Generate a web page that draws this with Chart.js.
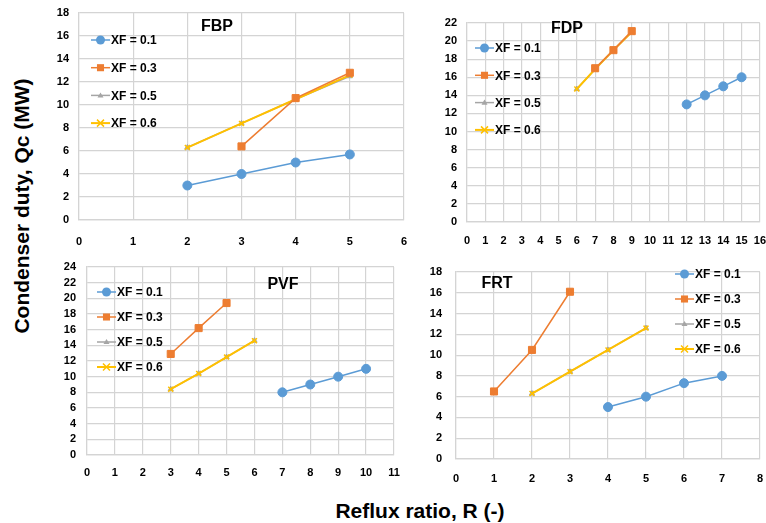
<!DOCTYPE html>
<html>
<head>
<meta charset="utf-8">
<script src="https://cdn.jsdelivr.net/npm/chart.js@4"></script>
<style>
  body { margin: 0; background: #fff; width: 766px; height: 523px; position: relative; overflow: hidden; font-family: "Liberation Sans", Arial, sans-serif; }
  .box { position: absolute; }
  .ptitle { position: absolute; font-weight: bold; font-size: 16px; transform: translate(-50%, -50%); white-space: nowrap; }
  #ytitle { position: absolute; left: 22px; top: 206px; font-weight: bold; font-size: 21px; white-space: nowrap; transform: translate(-50%, -50%) rotate(-90deg); }
  #xtitle { position: absolute; left: 420px; top: 511px; font-weight: bold; font-size: 21px; white-space: nowrap; transform: translate(-50%, -50%); }
</style>
</head>
<body>
<div class="box" id="b1"><canvas id="fbp"></canvas></div>
<div class="box" id="b2"><canvas id="fdp"></canvas></div>
<div class="box" id="b3"><canvas id="pvf"></canvas></div>
<div class="box" id="b4"><canvas id="frt"></canvas></div>
<div class="ptitle" style="left:217px;top:26px">FBP</div>
<div class="ptitle" style="left:567px;top:28px">FDP</div>
<div class="ptitle" style="left:283px;top:284px">PVF</div>
<div class="ptitle" style="left:497px;top:283px">FRT</div>
<div id="ytitle">Condenser duty, Qc (MW)</div>
<div id="xtitle">Reflux ratio, R (-)</div>
<script>
// Series labels (feed mole fraction)
const seriesLabels = ['XF = 0.1', 'XF = 0.3', 'XF = 0.5', 'XF = 0.6'];

// FBP: reflux ratio / condenser duty per series
const fbpR  = [[2, 3, 4, 5], [3, 4, 5], [2, 3, 4, 5], [2, 3, 4, 5]];
const fbpQc = [[3, 4, 5, 5.7], [6.4, 10.6, 12.8], [6.3, 8.4, 10.5, 12.5], [6.3, 8.4, 10.5, 12.6]];

// FDP
const fdpR  = [[12, 13, 14, 15], [7, 8, 9], [6, 7, 8, 9], [6, 7, 8, 9]];
const fdpQc = [[13, 14, 15, 16], [17, 19, 21.1], [14.7, 16.9, 19, 21], [14.7, 16.9, 19, 21]];

// PVF
const pvfR  = [[7, 8, 9, 10], [3, 4, 5], [3, 4, 5, 6], [3, 4, 5, 6]];
const pvfQc = [[8, 9, 10, 11], [12.9, 16.2, 19.4], [8.4, 10.4, 12.5, 14.6], [8.4, 10.4, 12.5, 14.6]];

// FRT
const frtR  = [[4, 5, 6, 7], [1, 2, 3], [2, 3, 4, 5], [2, 3, 4, 5]];
const frtQc = [[5, 6, 7.3, 8], [6.5, 10.5, 16.1], [6.3, 8.4, 10.5, 12.6], [6.3, 8.4, 10.5, 12.6]];

// axis ranges [xMax, yMax]
const fbpMax = [6, 18];
const fdpMax = [16, 22];
const pvfMax = [11, 24];
const frtMax = [8, 18];

const styles = [
  { color: '#5b9bd5', point: 'circle',   radius: 4.5, width: 1.5, order: 0 },
  { color: '#ed7d31', point: 'rect',     radius: 5,   width: 1.5, order: 1 },
  { color: '#a5a5a5', point: 'triangle', radius: 3,   width: 1.5, order: 3 },
  { color: '#ffc000', point: 'crossRot', radius: 3.5, width: 2,   order: 2 },
];

const tickFont = { family: '"Liberation Sans Narrow", "Liberation Sans", Arial, sans-serif', size: 11, weight: 'bold' };
const gridColor = '#d4d4d4';

function drawMarker(ctx, s, x, y) {
  ctx.save();
  ctx.fillStyle = s.color;
  ctx.strokeStyle = s.color;
  ctx.lineWidth = 1.5;
  const r = s.radius;
  ctx.beginPath();
  if (s.point === 'circle') {
    ctx.arc(x, y, r, 0, Math.PI * 2);
    ctx.fill();
  } else if (s.point === 'rect') {
    const h = r * Math.SQRT1_2;
    ctx.fillRect(x - h, y - h, h * 2, h * 2);
  } else if (s.point === 'triangle') {
    ctx.moveTo(x, y - r);
    ctx.lineTo(x + r, y + r * 0.7);
    ctx.lineTo(x - r, y + r * 0.7);
    ctx.closePath();
    ctx.fill();
  } else {
    ctx.moveTo(x - r, y - r); ctx.lineTo(x + r, y + r);
    ctx.moveTo(x + r, y - r); ctx.lineTo(x - r, y + r);
    ctx.stroke();
  }
  ctx.restore();
}

// Draws the small legend list at fixed spots inside the plot.
const boxLegend = {
  id: 'boxLegend',
  afterDraw(chart, args, opts) {
    const ctx = chart.ctx;
    ctx.save();
    ctx.font = 'bold 12px "Liberation Sans Narrow", "Liberation Sans", Arial, sans-serif';
    ctx.textBaseline = 'middle';
    seriesLabels.forEach((lab, i) => {
      const s = styles[i];
      const y = opts.y + i * opts.dy;
      ctx.strokeStyle = s.color;
      ctx.lineWidth = s.width;
      ctx.beginPath();
      ctx.moveTo(opts.x, y);
      ctx.lineTo(opts.x + 19, y);
      ctx.stroke();
      drawMarker(ctx, s, opts.x + 9.5, y);
      ctx.fillStyle = '#000';
      ctx.fillText(lab, opts.x + 20, y + 1);
    });
    ctx.restore();
  }
};

// gaps: [x tick label gap below axis, y tick label gap left of axis]
function makePanel(boxId, canvasId, box, area, xs, ys, maxes, legend, gaps) {
  const el = document.getElementById(boxId);
  el.style.left = box[0] + 'px';
  el.style.top = box[1] + 'px';
  el.style.width = box[2] + 'px';
  el.style.height = box[3] + 'px';
  const yW = area[0] - box[0];
  const xH = box[1] + box[3] - area[3];
  new Chart(document.getElementById(canvasId), {
    type: 'line',
    data: {
      datasets: seriesLabels.map((lab, i) => ({
        label: lab,
        data: xs[i].map((x, j) => ({ x: x, y: ys[i][j] })),
        borderColor: styles[i].color,
        backgroundColor: styles[i].color,
        pointBackgroundColor: styles[i].color,
        pointBorderColor: styles[i].color,
        pointStyle: styles[i].point,
        pointRadius: styles[i].radius,
        pointBorderWidth: styles[i].point === 'crossRot' ? 1.5 : 1,
        borderWidth: styles[i].width,
        order: styles[i].order,
        tension: 0,
      }))
    },
    options: {
      responsive: true,
      maintainAspectRatio: false,
      animation: false,
      layout: { padding: { top: area[1] - box[1], right: box[0] + box[2] - area[2], left: 0, bottom: 0 } },
      plugins: {
        legend: { display: false },
        tooltip: { enabled: false },
        boxLegend: { x: legend[0] - box[0], y: legend[1] - box[1], dy: legend[2] },
      },
      scales: {
        x: {
          type: 'linear', min: 0, max: maxes[0],
          ticks: { stepSize: 1, font: tickFont, color: '#000', padding: 0, maxRotation: 0, autoSkip: false },
          grid: { color: gridColor, lineWidth: 1.2, drawTicks: true, tickLength: gaps[0], tickColor: 'transparent' },
          border: { color: gridColor, width: 1.2 },
          afterFit: s => { s.height = xH; },
        },
        y: {
          min: 0, max: maxes[1],
          ticks: { stepSize: 2, font: tickFont, color: '#000', padding: 0, autoSkip: false },
          grid: { color: gridColor, lineWidth: 1.2, drawTicks: true, tickLength: gaps[1], tickColor: 'transparent' },
          border: { color: gridColor, width: 1.2 },
          afterFit: s => { s.width = yW; },
        }
      }
    },
    plugins: [boxLegend]
  });
}

// box: [left, top, width, height]; area: [left, top, right, bottom] of the plot, page coords
makePanel('b1', 'fbp', [40, 0, 372, 250], [79, 13, 404, 220], fbpR, fbpQc, fbpMax, [91, 40, 27.7], [15, 10]);
makePanel('b2', 'fdp', [420, 0, 346, 255], [467, 23, 762, 222], fdpR, fdpQc, fdpMax, [475, 48, 27.3], [12, 10]);
makePanel('b3', 'pvf', [50, 255, 355, 230], [87, 267, 394, 455], pvfR, pvfQc, pvfMax, [97, 292, 25], [11, 11]);
makePanel('b4', 'frt', [415, 260, 351, 235], [456, 272, 763, 459], frtR, frtQc, frtMax, [675, 274, 25], [13, 14]);
</script>
</body>
</html>
